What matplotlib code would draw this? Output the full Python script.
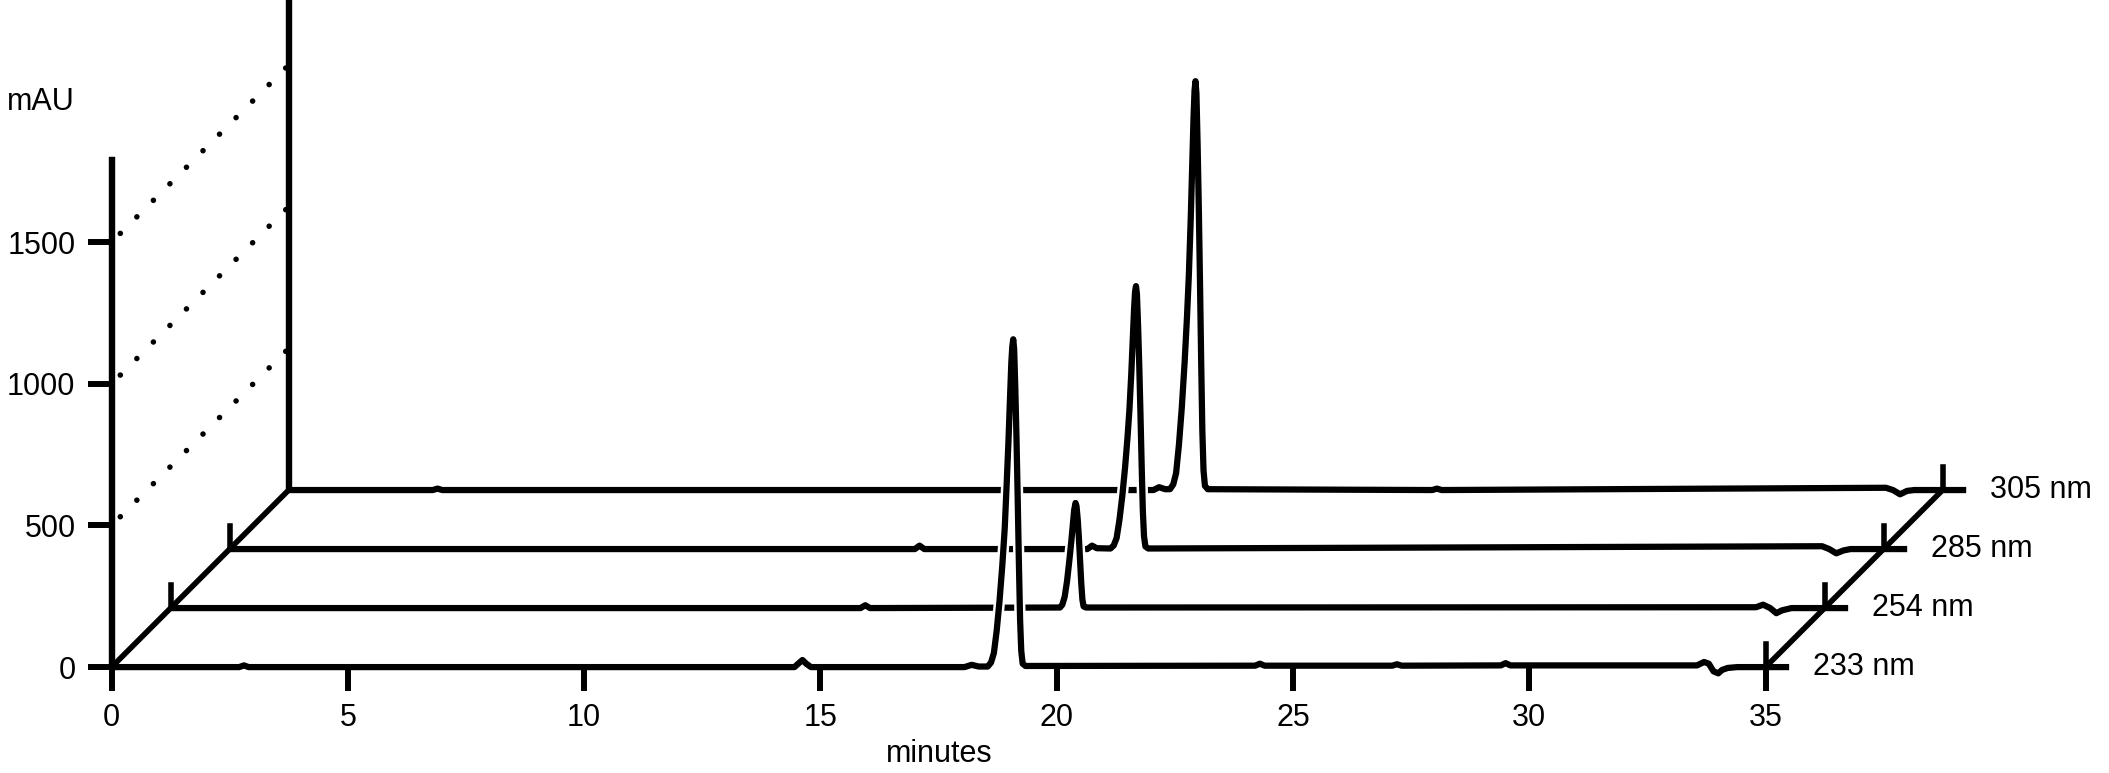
import matplotlib
matplotlib.use('Agg')
import matplotlib.pyplot as plt
import matplotlib.transforms as mtransforms
import matplotlib.patheffects as pe

plt.rcParams['font.family'] = ['Liberation Sans', 'DejaVu Sans']

# wavelengths, front trace first
wavelengths = ['233 nm', '254 nm', '285 nm', '305 nm']

# chromatogram traces (minutes, mAU)
t_233 = [0, 2.7, 2.8, 2.9, 14.45, 14.55, 14.62, 14.7, 14.8, 18.05, 18.2, 18.35,
         18.54, 18.61, 18.67, 18.73, 18.79, 18.85, 18.90, 18.94, 18.98, 19.01, 19.04,
         19.06, 19.08, 19.10, 19.125, 19.15, 19.175, 19.20, 19.225, 19.25, 19.28, 19.34,
         24.2, 24.3, 24.4, 27.1, 27.2, 27.3, 29.4, 29.5, 29.6,
         33.55, 33.7, 33.8, 33.9, 34.0, 34.08, 34.2, 34.4, 35.5]
a_233 = [0, 0, 6, 0, 0, 15, 25, 12, 0, 0, 8, 2,
         2, 16, 49, 128, 233, 361, 489, 640, 800, 940, 1075,
         1130, 1157, 1122, 978, 802, 594, 369, 169, 57, 12, 4,
         5, 12, 5, 5, 10, 5, 6, 14, 6,
         6, 18, 12, -15, -22, -10, -3, 0, 0]

t_254 = [0, 14.6, 14.7, 14.8, 18.82, 18.87, 18.92, 18.97, 19.02, 19.06, 19.09, 19.12,
         19.15, 19.17, 19.195, 19.22, 19.245, 19.27, 19.295, 19.32, 19.37,
         33.55, 33.7, 33.85, 33.98, 34.1, 34.3, 35.5]
a_254 = [0, 0, 10, 0, 2, 12, 40, 95, 170, 235, 290, 345,
         371, 360, 315, 250, 170, 90, 30, 6, 2,
         3, 12, 0, -18, -8, 0, 0]

t_285 = [0, 14.5, 14.6, 14.7, 18.15, 18.25, 18.35, 18.64, 18.71, 18.77, 18.83, 18.89,
         18.95, 19.0, 19.04, 19.08, 19.11, 19.14, 19.16, 19.18, 19.2, 19.225, 19.25,
         19.275, 19.3, 19.325, 19.35, 19.38, 19.44, 33.7, 33.85, 34.0, 34.15, 34.3, 35.5]
a_285 = [0, 0, 12, 0, 0, 12, 3, 2, 13, 39, 103, 187,
         290, 393, 489, 617, 733, 849, 907, 928, 900, 784, 643,
         476, 296, 135, 45, 9, 2, 10, 0, -15, -5, 0, 0]

t_305 = [0, 3.05, 3.15, 3.25, 18.3, 18.42, 18.55, 18.65, 18.72, 18.78, 18.84, 18.9,
         18.96, 19.01, 19.05, 19.09, 19.12, 19.15, 19.17, 19.19, 19.21, 19.235, 19.26,
         19.285, 19.31, 19.335, 19.36, 19.39, 19.45, 24.2, 24.3, 24.4,
         33.8, 33.95, 34.1, 34.25, 34.4, 35.5]
a_305 = [0, 0, 5, 0, 0, 10, 3, 3, 20, 60, 160, 290,
         450, 610, 760, 960, 1140, 1320, 1410, 1443, 1400, 1220, 1000,
         740, 460, 210, 70, 15, 3, 0, 5, 0,
         8, 0, -15, -3, 0, 0]

x_ticks = [0, 5, 10, 15, 20, 25, 30, 35]
y_ticks = [0, 500, 1000, 1500]

DX = 1.249   # minutes shift per wavelength layer
DY = 208.3   # mAU shift per wavelength layer
LW = 4.5
LW_AX = 4.6
FS = 22

fig = plt.figure(figsize=(21.09, 7.73), dpi=100)
ax = fig.add_axes([0.05292, 0.13700, 0.78421, 0.65977])
ax.set_xlim(0, 35)
ax.set_ylim(0, 1800)
ax.set_axisbelow(False)

for s in ['top', 'right', 'bottom']:
    ax.spines[s].set_visible(False)
ax.spines['left'].set_linewidth(LW_AX)
ax.spines['left'].set_bounds(0, 1790)
ax.set_xticks(x_ticks)
ax.set_yticks(y_ticks)
ax.xaxis.set_ticks_position('bottom')
ax.yaxis.set_ticks_position('left')
ax.tick_params(axis='both', direction='out', length=17, width=4.3,
               labelsize=FS, pad=9)

traces = [(t_233, a_233), (t_254, a_254), (t_285, a_285), (t_305, a_305)]
halo = [pe.Stroke(linewidth=LW + 3.6, foreground='white'), pe.Normal()]

# back to front so nearer traces hide the ones behind
for k in reversed(range(len(traces))):
    t, a = traces[k]
    tr = mtransforms.Affine2D().translate(k * DX, k * DY) + ax.transData
    ax.plot(t, a, transform=tr, color='black', lw=LW, clip_on=False,
            solid_joinstyle='round', solid_capstyle='butt',
            path_effects=halo, zorder=2 + 0.1 * (4 - k))
    # small ticks on each layer
    ax.plot([35, 35], [0, 80], transform=tr, color='black', lw=4.0,
            clip_on=False, zorder=3)
    if k in (1, 2):
        ax.plot([0, 0], [0, 80], transform=tr, color='black', lw=4.0,
                clip_on=False, zorder=3)
    ax.text(36.0, 0, wavelengths[k], transform=tr, ha='left', va='center',
            fontsize=FS)

n = len(traces) - 1
# depth axes
ax.plot([0, n * DX], [0, n * DY], color='black', lw=4.0, clip_on=False, zorder=3)
ax.plot([35, 35 + n * DX], [0, n * DY], color='black', lw=4.0, clip_on=False, zorder=3)
ax.plot([n * DX, n * DX], [n * DY, n * DY + 1800], color='black', lw=LW_AX,
        clip_on=False, zorder=3, solid_capstyle='butt')

# dotted guides from the front axis to the back axis
for lev in y_ticks[1:]:
    ax.plot([0, n * DX], [lev, lev + n * DY], color='black', lw=4.0,
            ls=(2.0, (0.01, 4.2)), dash_capstyle='round', clip_on=False, zorder=1)

fig.text(41 / 2109, 1 - 102 / 773, 'mAU', ha='center', va='center', fontsize=FS)
fig.text(939 / 2109, 1 - 761.7 / 773, 'minutes', ha='center', va='baseline', fontsize=FS)

fig.savefig('out.png', dpi=100)
plt.close(fig)
